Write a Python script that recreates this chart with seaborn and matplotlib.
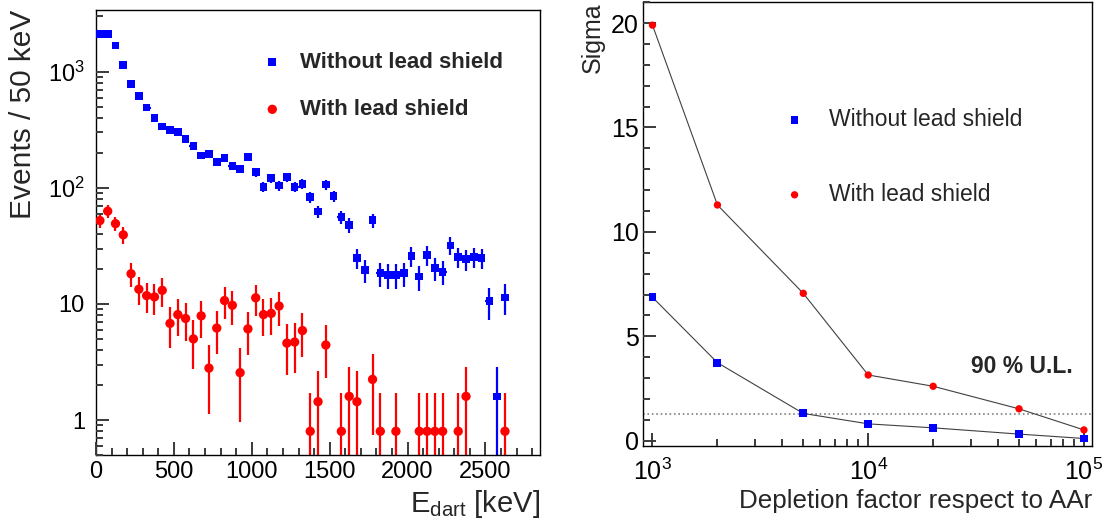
import numpy as np
import pandas as pd
import matplotlib
matplotlib.use("Agg")
import matplotlib.pyplot as plt
import matplotlib.ticker as mticker
import seaborn as sns

# left panel: E_dart spectrum in 50 keV bins
bin_width = 50
energy = np.arange(25, 2650, bin_width)   # bin centres [keV]

events_no_shield = [2113, 2113, 1686, 1142, 783, 617, 492, 401, 337, 316,
                    304, 263, 229, 190, 195, 167, 180, 155, 146, 184,
                    137, 102, 121, 105, 124, 102, 108, 83, 62.5, 107,
                    85, 56, 48, 25, 19.6, 52.7, 18.4, 17.7, 17.7, 18.4,
                    25.9, 17.2, 26.4, 20.3, 18.9, 31.8, 25.3, 24.3, 25.3, 25,
                    10.6, 1.6, 11.4]
nan = np.nan
events_shield = [52.3, 63, 49.2, 39.4, 18.2, 13.4, 11.8, 11.5, 13.1, 6.8,
                 8.1, 7.5, 5.0, 7.9, 2.8, 6.2, 10.7, 9.75, 2.56, 6.1,
                 11.3, 8.1, 8.3, 9.6, 4.6, 4.7, 5.9, 0.8, 1.44, 4.43,
                 nan, 0.8, 1.6, 1.44, nan, 2.24, 0.8, nan, 0.8, nan,
                 nan, 0.8, 0.8, 0.8, 0.8, nan, 0.8, 1.6, nan, nan,
                 nan, nan, 0.8]

# right panel: sensitivity vs depletion factor
depletion = [1e3, 2e3, 5e3, 1e4, 2e4, 5e4, 1e5]
sigma_no_shield = [6.87, 3.74, 1.31, 0.81, 0.62, 0.32, 0.11]
sigma_shield = [19.9, 11.29, 7.06, 3.15, 2.61, 1.53, 0.52]
ul_90 = 1.28

label_no = "Without lead shield"
label_yes = "With lead shield"

sns.set_style("ticks")
plt.rcParams['font.family'] = ['Liberation Sans', 'DejaVu Sans']
plt.rcParams['mathtext.fontset'] = 'custom'
plt.rcParams['mathtext.rm'] = 'Liberation Sans'
plt.rcParams['mathtext.it'] = 'Liberation Sans:italic'
plt.rcParams['axes.edgecolor'] = 'black'
plt.rcParams['axes.linewidth'] = 1.0
plt.rcParams['axes.axisbelow'] = False

fig = plt.figure(figsize=(11.1, 5.29), dpi=100)
ax1 = fig.add_axes([0.0865, 0.1399, 0.4, 0.841])
ax2 = fig.add_axes([0.5793, 0.1569, 0.4045, 0.839])

# ---- left: spectrum ----
df = pd.DataFrame({'E': energy, 'no': events_no_shield, 'yes': events_shield})
for col, color, marker, size, lab in [('no', 'blue', 's', 30, label_no),
                                      ('yes', 'red', 'o', 45, label_yes)]:
    d = df.dropna(subset=[col])
    v = d[col].values
    err = np.sqrt(v)
    lo = np.minimum(err, v - 1e-4)
    ax1.errorbar(d['E'], v, yerr=[lo, err], xerr=bin_width / 2, fmt='none',
                 ecolor=color, elinewidth=1.6, capsize=0, zorder=2)
    sns.scatterplot(data=d, x='E', y=col, marker=marker, color=color, s=size,
                    edgecolor='none', linewidth=0, ax=ax1, label=lab, zorder=3)

ax1.set_yscale('log')
ax1.set_xlim(0, 2850)
ax1.set_ylim(0.5, 3400)
ax1.xaxis.set_major_locator(mticker.MultipleLocator(500))
ax1.xaxis.set_minor_locator(mticker.MultipleLocator(100))
ax1.yaxis.set_major_locator(mticker.LogLocator(base=10, numticks=10))
ax1.yaxis.set_minor_locator(mticker.LogLocator(base=10, subs=np.arange(2, 10), numticks=20))
ax1.yaxis.set_minor_formatter(mticker.NullFormatter())


def log_label(v, pos):
    if v == 1:
        return '1'
    if v == 10:
        return '10'
    return r'$10^{%d}$' % int(round(np.log10(v)))


ax1.yaxis.set_major_formatter(mticker.FuncFormatter(log_label))

ax1.set_xlabel(r'E$_{\mathregular{dart}}$ [keV]', fontsize=21, loc='right')
ax1.xaxis.set_label_coords(1.0, -0.128)
ax1.xaxis.label.set_va('baseline')
ax1.set_ylabel('Events / 50 keV', fontsize=21.5, loc='top')
ax1.yaxis.set_label_coords(-0.164, 1.0)
ax1.yaxis.label.set_va('center')

ax1.legend(loc='upper left', bbox_to_anchor=(0.372, 0.906), frameon=False,
           borderpad=0, borderaxespad=0, handlelength=1.0, handletextpad=0.75,
           labelspacing=1.18, prop={'weight': 'bold', 'size': 16})

# ---- right: sigma vs depletion ----
df2 = pd.DataFrame({'depletion': depletion, 'no': sigma_no_shield, 'yes': sigma_shield})
for col in ['no', 'yes']:
    sns.lineplot(data=df2, x='depletion', y=col, color='#404040', linewidth=0.8,
                 ax=ax2, zorder=2)
sns.scatterplot(data=df2, x='depletion', y='no', marker='s', color='blue', s=32,
                edgecolor='none', linewidth=0, ax=ax2, label=label_no, zorder=3)
sns.scatterplot(data=df2, x='depletion', y='yes', marker='o', color='red', s=28,
                edgecolor='none', linewidth=0, ax=ax2, label=label_yes, zorder=3)
ax2.axhline(ul_90, color='gray', linestyle=':', linewidth=1.2, zorder=1)
ax2.text(3.0e4, 3.58, '90 % U.L.', fontsize=16.5, fontweight='bold',
         ha='left', va='center')

ax2.set_xscale('log')
ax2.set_xlim(904, 1.09e5)
ax2.set_ylim(-0.25, 21)
ax2.yaxis.set_major_locator(mticker.MultipleLocator(5))
ax2.yaxis.set_minor_locator(mticker.MultipleLocator(1))
ax2.xaxis.set_minor_locator(mticker.LogLocator(base=10, subs=np.arange(2, 10), numticks=20))
ax2.xaxis.set_minor_formatter(mticker.NullFormatter())

ax2.set_xlabel('Depletion factor respect to AAr', fontsize=18.7, loc='right')
ax2.xaxis.set_label_coords(1.0, -0.1396)
ax2.xaxis.label.set_va('baseline')
ax2.set_ylabel('Sigma', fontsize=18, loc='top')
ax2.yaxis.set_label_coords(-0.111, 1.0)
ax2.yaxis.label.set_va('center')

ax2.legend(loc='upper left', bbox_to_anchor=(0.312, 0.762), frameon=False,
           borderpad=0, borderaxespad=0, handlelength=1.0, handletextpad=1.0,
           labelspacing=2.27, prop={'size': 16.5})

# ROOT-like frame and inward ticks on left/bottom only
for ax, lsize, ypad, xpad in [(ax1, 17, 8, 4), (ax2, 18, 3, 9)]:
    ax.set_axisbelow(False)
    for s in ax.spines.values():
        s.set_visible(True)
        s.set_color('black')
        s.set_linewidth(1.0)
    ax.tick_params(axis='both', which='both', direction='in', color='#3a3a3a',
                   labelcolor='black',
                   left=True, bottom=True, right=False, top=False)
    ax.tick_params(axis='both', which='major', length=9.5, width=1.4,
                   labelsize=lsize)
    ax.tick_params(axis='both', which='minor', length=5, width=1.4)
    ax.tick_params(axis='y', which='major', pad=ypad)
    ax.tick_params(axis='x', which='major', pad=xpad)

fig.savefig('out.png', dpi=100)
